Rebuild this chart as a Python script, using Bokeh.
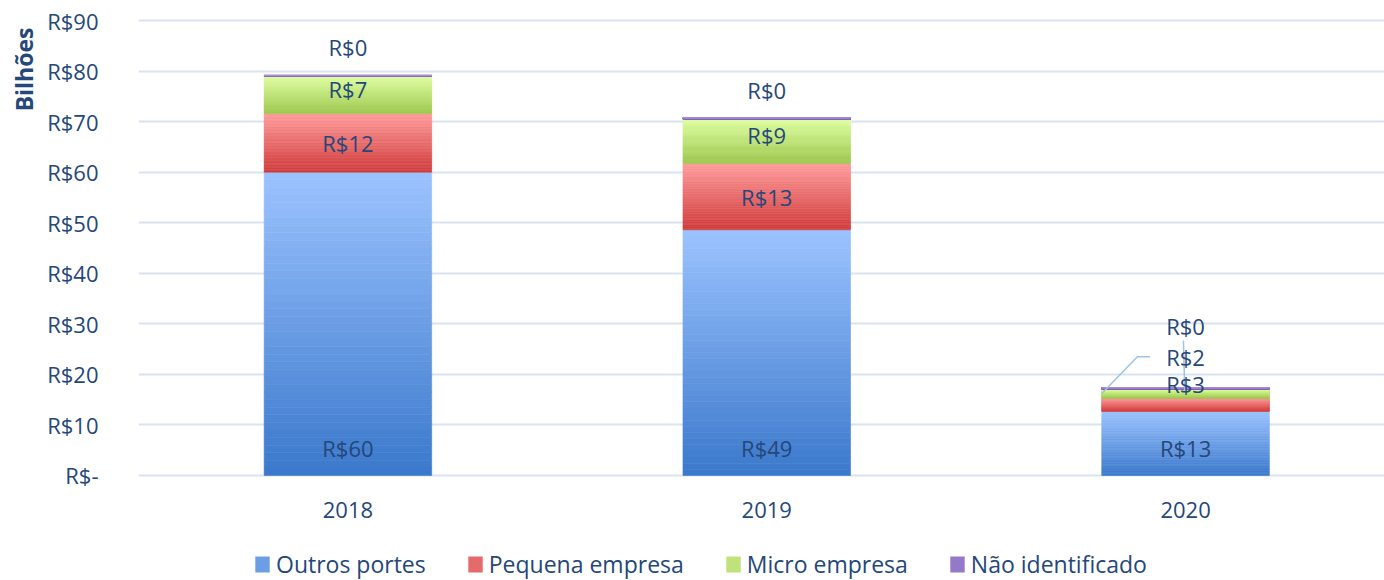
import math
from bokeh.plotting import figure
from bokeh.layouts import column
from bokeh.models import (Range1d, FixedTicker, Legend, LegendItem, Title, ColumnDataSource)
from bokeh.core.properties import value
from bokeh.embed import file_html
from bokeh.resources import INLINE

# ---------------- data ----------------
years = ["2018", "2019", "2020"]
outros = [60.0, 48.6, 12.7]
pequena = [11.6, 13.1, 2.6]
micro = [7.4, 8.8, 1.8]
nao = [0.15, 0.3, 0.3]
series_names = ["Outros portes", "Pequena empresa", "Micro empresa", "Não identificado"]
y_ticks = [0, 10, 20, 30, 40, 50, 60, 70, 80, 90]
y_tick_labels = ["R$-", "R$10", "R$20", "R$30", "R$40", "R$50", "R$60", "R$70", "R$80", "R$90"]

# ---------------- styles ----------------
FONT = "Open Sans"
TXT = "#254779"
GRID = "#D9E3F1"
# (top colour, bottom colour) per series
grad = [("#9CC3FF", "#3A78CB"), ("#FF9C9C", "#D03A3A"), ("#DEFFA0", "#9BC64C"), ("#A88BD8", "#7A5CB0")]
legend_cols = ["#6C9EE6", "#E56B6B", "#BFE27B", "#9479C8"]
BAR_W = 0.4
N_SLICES = 40
FS = "22px"
# manually moved labels in 2020 (index 2): data-space y for series 1,2,3
moved_label_y = {1: 18.0, 2: 23.5, 3: 29.5}

def hex2rgb(h):
    h = h.lstrip("#")
    return tuple(int(h[i:i + 2], 16) for i in (0, 2, 4))

def mix(c1, c2, t):
    a, b = hex2rgb(c1), hex2rgb(c2)
    return "#%02x%02x%02x" % tuple(int(round(a[i] + (b[i] - a[i]) * t)) for i in range(3))

p = figure(width=1384, height=530, output_backend="svg", toolbar_location=None,
           x_range=Range1d(-0.5, 2.475), y_range=Range1d(-0.4, 90.4),
           min_border_left=138, min_border_right=0, min_border_top=18, min_border_bottom=53)
p.outline_line_color = None
p.background_fill_color = "white"
p.border_fill_color = "white"

# grid
p.xgrid.grid_line_color = None
p.ygrid.grid_line_color = GRID
p.ygrid.grid_line_width = 2
p.ygrid.ticker = FixedTicker(ticks=y_ticks)

# y axis
p.yaxis.ticker = FixedTicker(ticks=y_ticks)
p.yaxis.major_label_overrides = {t: l for t, l in zip(y_ticks, y_tick_labels)}
p.yaxis.axis_line_color = None
p.yaxis.major_tick_line_color = None
p.yaxis.minor_tick_line_color = None
p.yaxis.major_label_text_font = FONT
p.yaxis.major_label_text_font_size = FS
p.yaxis.major_label_text_color = TXT
p.yaxis.major_label_standoff = 34

# x axis
p.xaxis.ticker = FixedTicker(ticks=list(range(len(years))))
p.xaxis.major_label_overrides = {i: y for i, y in enumerate(years)}
p.xaxis.axis_line_color = None
p.xaxis.major_tick_line_color = None
p.xaxis.minor_tick_line_color = None
p.xaxis.major_label_text_font = FONT
p.xaxis.major_label_text_font_size = FS
p.xaxis.major_label_text_color = TXT
p.xaxis.major_label_standoff = 18

series = [outros, pequena, micro, nao]
xs = list(range(len(years)))

# gradient stacked bars
sx, sb, st, sc = [], [], [], []
bottoms = [0.0] * len(years)
seg_bounds = []
for si, vals in enumerate(series):
    bounds = []
    for i, v in enumerate(vals):
        b = bottoms[i]
        t = b + v
        bounds.append((b, t))
        for k in range(N_SLICES):
            y0 = b + (t - b) * k / N_SLICES
            y1 = b + (t - b) * (k + 1) / N_SLICES
            frac = (k + 0.5) / N_SLICES
            sx.append(xs[i]); sb.append(y0); st.append(y1)
            sc.append(mix(grad[si][1], grad[si][0], frac))
        bottoms[i] = t
    seg_bounds.append(bounds)

p.vbar(x="x", bottom="b", top="t", width=BAR_W, fill_color="c", line_color="c", line_width=0.6,
       source=ColumnDataSource(dict(x=sx, b=sb, t=st, c=sc)))

# data labels
lx, ly, lt, lo = [], [], [], []
for si, vals in enumerate(series):
    for i, v in enumerate(vals):
        b, t = seg_bounds[si][i]
        if i == 2 and si in moved_label_y:
            y, off = moved_label_y[si], 0
        elif si == 0:
            y, off = 0, -27
        elif si == 3:
            y, off = t, -28
        elif si == 2:
            y, off = (b + t) / 2, -6
        else:
            y, off = (b + t) / 2, 0
        lx.append(xs[i]); ly.append(y); lt.append("R$%d" % round(v)); lo.append(off)

# leader lines for 2020 moved labels
i = 2
mb, mt = seg_bounds[2][i]
p.line([xs[i] - 0.085, xs[i] - 0.115, xs[i] - BAR_W / 2], [moved_label_y[2]] * 2 + [(mb + mt) / 2],
       line_color="#9DC3E6", line_width=1.5)
nb, nt = seg_bounds[3][i]
p.line([xs[i] - 0.005, xs[i] - 0.002], [moved_label_y[3] - 2.8, nt - 0.6],
       line_color="#9DC3E6", line_width=1.5)

p.text(x="x", y="y", text="t", y_offset="o", source=ColumnDataSource(dict(x=lx, y=ly, t=lt, o=lo)),
       text_font=value(FONT), text_font_size=FS, text_color=TXT,
       text_align="center", text_baseline="middle")

# y axis title (top-aligned, at the left edge)
p.add_layout(Title(text="Bilhões", align="right", offset=9, standoff=10,
                   text_font=FONT, text_font_size="23px", text_font_style="bold", text_color=TXT), "left")

# legend in its own strip below (its frame aligns with the chart frame)
lf = figure(width=1384, height=50, output_backend="svg", toolbar_location=None,
            x_axis_type=None, y_axis_type=None, x_range=Range1d(0, 1), y_range=Range1d(0, 1),
            min_border=0)
lf.outline_line_color = None
lf.xgrid.visible = False
lf.ygrid.visible = False
items = []
for si, name in enumerate(series_names):
    r = lf.vbar(x=[5], top=[5], bottom=[4], width=1, fill_color=legend_cols[si], line_color=None)
    items.append(LegendItem(label=name, renderers=[r]))
legend = Legend(items=items, orientation="horizontal", location=(115, 0),
                label_text_font=FONT, label_text_font_size="23px", label_text_color=TXT,
                glyph_width=18, glyph_height=20, label_standoff=5, spacing=40,
                padding=0, margin=0, border_line_color=None, background_fill_alpha=0)
lf.add_layout(legend, "center")

open("out.html", "w").write(file_html(column(p, lf, spacing=0), INLINE))
